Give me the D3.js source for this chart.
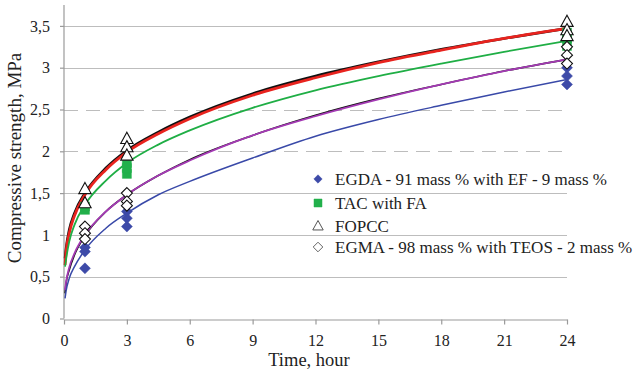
<!DOCTYPE html>
<html><head><meta charset="utf-8">
<script src="https://cdn.jsdelivr.net/npm/d3@7"></script>
<style>
html,body{margin:0;padding:0;background:#fff;}
svg{display:block;}
text{font-family:"Liberation Serif","Times New Roman",serif;fill:#222;}
</style></head>
<body><svg id="chart" width="635" height="372"></svg>
<script>
// ---- data ----
const xTicks = [0, 3, 6, 9, 12, 15, 18, 21, 24];
const yTicks = [0, 0.5, 1, 1.5, 2, 2.5, 3, 3.5];
const yTickLabels = ["0", "0,5", "1", "1,5", "2", "2,5", "3", "3,5"];
const dashedGrid = [2, 2.5];

const seriesNames = ["EGDA - 91 mass % with EF - 9 mass %", "TAC with FA", "FOPCC", "EGMA - 98 mass % with TEOS - 2 mass %"];

// measured points: [time, value]
const egdaPoints = [[1,0.85],[1,0.8],[1,0.6],[3,1.28],[3,1.2],[3,1.1],[24,3.0],[24,2.9],[24,2.8]];
const tacPoints = [[1,1.3],[1,1.34],[3,1.73],[3,1.8],[3,1.86],[24,3.42],[24,3.35],[24,3.26]];
const fopccPoints = [[1,1.55],[1,1.38],[3,2.15],[3,2.05],[3,1.95],[24,3.55],[24,3.45],[24,3.38]];
const egmaPoints = [[1,1.1],[1,1.02],[1,0.95],[3,1.5],[3,1.4],[3,1.35],[24,3.25],[24,3.15],[24,3.05]];

// trend curves
const curveTimes = [0.05, 0.1, 0.25, 0.5, 1, 2, 3, 4.5, 6, 9, 12, 15, 18, 21, 24];
const curveBlackTop = [0.72, 0.84, 1.06, 1.26, 1.50, 1.80, 2.01, 2.23, 2.41, 2.69, 2.90, 3.07, 3.22, 3.35, 3.47];
const curveRed      = [0.64, 0.80, 1.02, 1.23, 1.48, 1.78, 1.99, 2.21, 2.39, 2.67, 2.88, 3.06, 3.21, 3.35, 3.47];
const curveGreen    = [0.62, 0.71, 0.92, 1.12, 1.36, 1.65, 1.86, 2.08, 2.25, 2.52, 2.73, 2.90, 3.05, 3.19, 3.32];
const curveBlackMid = [0.30, 0.42, 0.58, 0.76, 0.99, 1.28, 1.48, 1.71, 1.90, 2.19, 2.43, 2.63, 2.80, 2.96, 3.10];
const curvePurple   = [0.34, 0.44, 0.61, 0.78, 1.00, 1.28, 1.48, 1.71, 1.89, 2.19, 2.42, 2.62, 2.80, 2.96, 3.10];
const curveBlue     = [0.24, 0.33, 0.48, 0.62, 0.82, 1.08, 1.26, 1.48, 1.64, 1.92, 2.18, 2.38, 2.55, 2.71, 2.86];

// ---- drawing ----
const FONT = '"Liberation Serif","Times New Roman",serif';
const svg = d3.select("#chart");
const x = d3.scaleLinear().domain([0, 24]).range([64, 567]);
const y = d3.scaleLinear().domain([0, 3.75]).range([318.5, 5]);

svg.append("rect").attr("width", 635).attr("height", 372).attr("fill", "#fff");

// gridlines
svg.append("g").selectAll("line").data(yTicks.filter(v => v > 0)).join("line")
  .attr("x1", x(0)).attr("x2", x(24))
  .attr("y1", d => Math.round(y(d)) + 0.5).attr("y2", d => Math.round(y(d)) + 0.5)
  .attr("stroke", "#bdbdbd").attr("stroke-width", 1.2)
  .attr("stroke-dasharray", d => dashedGrid.includes(d) ? "14,8" : null);

// axes
const xAxis = d3.axisBottom(x).tickValues(xTicks).tickSize(5).tickSizeOuter(0).tickPadding(10).tickFormat(d3.format("d"));
const gx = svg.append("g").attr("transform", `translate(0,${Math.round(y(0)) + 0.5})`).call(xAxis);
const yAxis = d3.axisLeft(y).tickValues(yTicks).tickSize(4).tickSizeOuter(0).tickPadding(10)
  .tickFormat((d, i) => yTickLabels[i]);
const gy = svg.append("g").attr("transform", `translate(${x(0)},0)`).call(yAxis);
[gx, gy].forEach(g => {
  g.attr("font-family", FONT);
  g.select(".domain").attr("stroke", "#9a9a9a").attr("stroke-width", 1.2);
  g.selectAll(".tick line").attr("stroke", "#9a9a9a").attr("stroke-width", 1.2);
  g.selectAll(".tick text").attr("font-size", 16).attr("fill", "#222");
});
gy.select(".domain").attr("d", `M0,${y(0)}V${y(3.75)}`);

// curves
const line = d3.line().x(d => x(d[0])).y(d => y(d[1])).curve(d3.curveMonotoneX);
const curves = [
  {v: curveBlackTop, c: "#111", w: 2.6},
  {v: curveRed, c: "#e8231e", w: 2.8},
  {v: curveGreen, c: "#1fae45", w: 1.8},
  {v: curveBlackMid, c: "#111", w: 1.6},
  {v: curvePurple, c: "#a43ab4", w: 1.8},
  {v: curveBlue, c: "#3949a8", w: 1.5}
];
curves.forEach(cv => {
  svg.append("path").datum(curveTimes.map((t, i) => [t, cv.v[i]]))
    .attr("d", line).attr("fill", "none").attr("stroke", cv.c).attr("stroke-width", cv.w);
});

// marker shapes
const diamond = r => `M0,${-r}L${r},0L0,${r}L${-r},0Z`;
const square = s => `M${-s/2},${-s/2}h${s}v${s}h${-s}Z`;
const triangle = r => `M0,${-r}L${r*0.95},${r*0.72}L${-r*0.95},${r*0.72}Z`;

function drawPoints(pts, path, fill, stroke, sw) {
  svg.append("g").selectAll("path").data(pts).join("path")
    .attr("transform", d => `translate(${x(d[0])},${y(d[1])})`)
    .attr("d", path).attr("fill", fill).attr("stroke", stroke).attr("stroke-width", sw);
}
drawPoints(egdaPoints, diamond(5.5), "#3d4aa8", "#3d4aa8", 0.5);
drawPoints(tacPoints, square(9), "#22b04b", "#22b04b", 0.5);
drawPoints(egmaPoints, diamond(5.5), "#fff", "#111", 1.1);
drawPoints(fopccPoints, triangle(6.5), "#fff", "#111", 1.1);

// legend
const legY = [185, 209, 232, 253];
const legX = 318;
const legMarks = [
  {d: diamond(4.2), f: "#3d4aa8", s: "#3d4aa8", w: 0.5},
  {d: square(8), f: "#22b04b", s: "#22b04b", w: 0.5},
  {d: triangle(5.5), f: "#fff", s: "#555", w: 1},
  {d: diamond(4.8), f: "#fff", s: "#666", w: 1}
];
const leg = svg.append("g");
seriesNames.forEach((name, i) => {
  leg.append("path").attr("transform", `translate(${legX},${legY[i] - 6})`)
    .attr("d", legMarks[i].d).attr("fill", legMarks[i].f).attr("stroke", legMarks[i].s).attr("stroke-width", legMarks[i].w);
  leg.append("text").attr("x", 335).attr("y", legY[i]).attr("font-size", 17).text(name);
});

// axis titles
svg.append("text").attr("x", 309).attr("y", 366).attr("text-anchor", "middle").attr("font-size", 18.5).text("Time, hour");
svg.append("text").attr("transform", "translate(21,158) rotate(-90)").attr("text-anchor", "middle")
  .attr("font-size", 19).text("Compressive strength, MPa");
</script></body></html>
